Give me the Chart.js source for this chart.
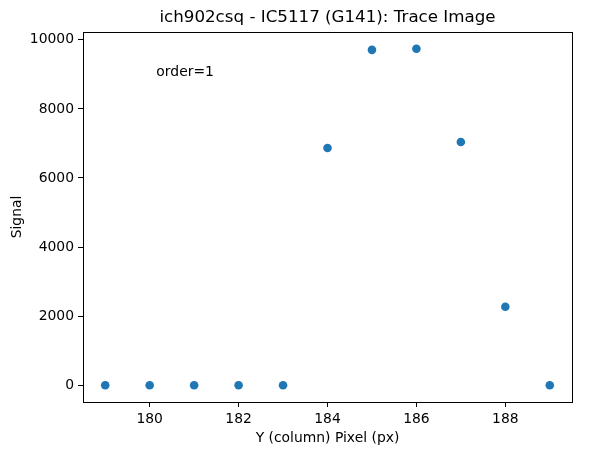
<!DOCTYPE html>
<html>
<head>
<meta charset="utf-8">
<script src="https://cdn.jsdelivr.net/npm/chart.js@4"></script>
<style>
  html, body { margin: 0; padding: 0; background: #fff; }
  #wrap { width: 589px; height: 455px; }
</style>
</head>
<body>
<div id="wrap"><canvas id="trace"></canvas></div>
<script>
// pixels along Y (column) and the signal
const pixels = [179, 180, 181, 182, 183, 184, 185, 186, 187, 188, 189];
const signal = [0, 0, 0, 0, 0, 6870, 9710, 9740, 7040, 2270, 0];
const xTicks = [180, 182, 184, 186, 188];
const yTicks = [0, 2000, 4000, 6000, 8000, 10000];

const FONT = 'DejaVu Sans';
const TITLE = 'ich902csq - IC5117 (G141): Trace Image';

// matplotlib style frame, title over the axes and the "order=1" note
const framePlugin = {
  id: 'frame',
  afterDraw(chart) {
    const a = chart.chartArea, ctx = chart.ctx;
    ctx.save();
    ctx.strokeStyle = '#000';
    ctx.lineWidth = 1;
    ctx.strokeRect(Math.round(a.left) + 0.5, Math.round(a.top) + 0.5,
      Math.round(a.right - a.left), Math.round(a.bottom - a.top));
    ctx.fillStyle = '#000';
    ctx.font = '16.7px ' + FONT;
    ctx.textAlign = 'center';
    ctx.textBaseline = 'middle';
    ctx.fillText(TITLE, (a.left + a.right) / 2, 18);
    ctx.font = '13.9px ' + FONT;
    ctx.textAlign = 'left';
    ctx.textBaseline = 'alphabetic';
    ctx.fillText('order=1', a.left + 0.15 * (a.right - a.left), a.bottom - 0.882 * (a.bottom - a.top));
    ctx.restore();
  }
};

const ctx = document.getElementById('trace').getContext('2d');
new Chart(ctx, {
  type: 'scatter',
  data: {
    datasets: [{
      data: pixels.map((p, i) => ({ x: p, y: signal[i] })),
      backgroundColor: '#1f77b4',
      borderColor: '#1f77b4',
      pointRadius: 4.3,
      pointHoverRadius: 4.3,
      borderWidth: 0
    }]
  },
  options: {
    responsive: true,
    maintainAspectRatio: false,
    animation: false,
    layout: { padding: { left: 0, right: 17, top: 32, bottom: 0 } },
    plugins: {
      legend: { display: false },
      tooltip: { enabled: false },
      title: { display: false }
    },
    scales: {
      x: {
        type: 'linear',
        min: 178.5,
        max: 189.5,
        afterBuildTicks: s => { s.ticks = xTicks.map(v => ({ value: v })); },
        afterFit: s => { s.height = 53; },
        grid: { drawOnChartArea: false, drawTicks: true, tickLength: 5, color: '#000' },
        border: { display: true, color: '#000' },
        ticks: { color: '#000', padding: 4, maxRotation: 0, font: { family: FONT, size: 13.9 },
                 callback: v => String(v) },
        title: {
          display: true,
          text: 'Y (column) Pixel (px)',
          color: '#000',
          font: { family: FONT, size: 13.9 },
          padding: { top: 0, bottom: 8 }
        }
      },
      y: {
        min: -487,
        max: 10227,
        afterBuildTicks: s => { s.ticks = yTicks.map(v => ({ value: v })); },
        afterFit: s => { s.width = 83; },
        grid: { drawOnChartArea: false, drawTicks: true, tickLength: 5, color: '#000' },
        border: { display: true, color: '#000' },
        ticks: { color: '#000', padding: 4, font: { family: FONT, size: 13.9 },
                 callback: v => String(v) },
        title: {
          display: true,
          text: 'Signal',
          color: '#000',
          font: { family: FONT, size: 13.9 },
          padding: { top: 9, bottom: 0 }
        }
      }
    }
  },
  plugins: [framePlugin]
});
</script>
</body>
</html>
